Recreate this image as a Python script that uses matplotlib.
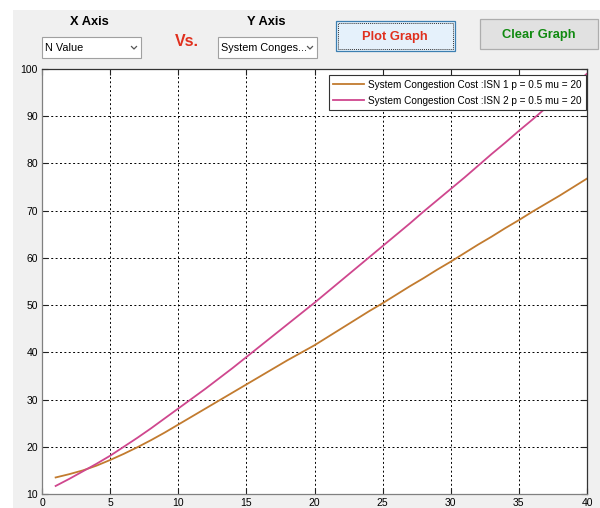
import matplotlib
matplotlib.use("Agg")
import matplotlib.pyplot as plt
from matplotlib.patches import Rectangle
from matplotlib.lines import Line2D

# ---------------- data ----------------
n_values = list(range(1, 41))
isn1_cost = [13.5, 14.2, 15.0, 16.0, 17.2, 18.5, 19.9, 21.4, 23.0, 24.7,
             26.4, 28.1, 29.8, 31.5, 33.2, 34.9, 36.6, 38.3, 39.9, 41.5,
             43.3, 45.1, 46.9, 48.7, 50.4, 52.2, 54.0, 55.7, 57.5, 59.2,
             61.0, 62.8, 64.5, 66.3, 68.0, 69.8, 71.5, 73.2, 75.0, 76.8]
isn2_cost = [11.7, 13.2, 14.8, 16.4, 18.1, 20.0, 21.9, 23.9, 26.0, 28.1,
             30.2, 32.3, 34.5, 36.7, 39.0, 41.3, 43.6, 45.9, 48.2, 50.5,
             52.9, 55.3, 57.7, 60.1, 62.5, 64.9, 67.3, 69.8, 72.2, 74.6,
             77.0, 79.5, 82.0, 84.4, 86.9, 89.3, 91.8, 94.2, 96.6, 99.0]
series_labels = ["System Congestion Cost :ISN 1 p = 0.5 mu = 20",
                 "System Congestion Cost :ISN 2 p = 0.5 mu = 20"]
x_ticks = [0, 5, 10, 15, 20, 25, 30, 35, 40]
y_ticks = [10, 20, 30, 40, 50, 60, 70, 80, 90, 100]

W, H = 600, 508
plt.rcParams['font.family'] = ['Liberation Sans', 'DejaVu Sans']
fig = plt.figure(figsize=(W / 100, H / 100), dpi=100, facecolor='white')


def fx(px):
    return px / W


def fy(py):
    return 1 - py / H


def rect(x0, y0, x1, y1, **kw):
    fig.patches.append(Rectangle((fx(x0), fy(y1)), fx(x1) - fx(x0), fy(y0) - fy(y1),
                                 transform=fig.transFigure, **kw))


# gray panel
rect(13, 10, 600, 508, facecolor='#f0f0f0', edgecolor='none', zorder=-5)

# header widgets
fig.text(fx(89), fy(22), "X Axis", ha='center', va='center', fontsize=9.3, fontweight='bold')
fig.text(fx(266), fy(22), "Y Axis", ha='center', va='center', fontsize=9.3, fontweight='bold')
fig.text(fx(187), fy(41), "Vs.", ha='center', va='center', fontsize=11.5, fontweight='bold',
         color='#e0301e')

for (x0, x1, label) in [(42, 141, "N Value"), (218, 317, "System Conges...")]:
    rect(x0, 37, x1, 58, facecolor='white', edgecolor='#a0a0a0', linewidth=0.8, zorder=1)
    fig.text(fx(x0 + 3), fy(48), label, ha='left', va='center', fontsize=7.8, color='black')
    cx = x1 - 7
    fig.lines.append(Line2D([fx(cx - 2.5), fx(cx), fx(cx + 2.5)], [fy(46.5), fy(49), fy(46.5)],
                            transform=fig.transFigure, color='#555555', linewidth=0.9))

# Plot Graph button
rect(336, 21, 455, 51, facecolor='#e5f1fb', edgecolor='#3c7fb1', linewidth=0.9, zorder=1)
rect(338, 23, 453, 49, facecolor='none', edgecolor='#333333', linewidth=0.7,
     linestyle=(0, (1, 1)), zorder=2)
fig.text(fx(395), fy(37), "Plot Graph", ha='center', va='center', fontsize=9.3,
         fontweight='bold', color='#e0301e')

# Clear Graph button
rect(480, 19, 598, 49, facecolor='#e1e1e1', edgecolor='#adadad', linewidth=0.9, zorder=1)
fig.text(fx(539), fy(35), "Clear Graph", ha='center', va='center', fontsize=9.3,
         fontweight='bold', color='#108a10')

# ---------------- axes ----------------
ax = fig.add_axes([fx(42), fy(494), fx(587) - fx(42), fy(69) - fy(494)])
ax.set_zorder(3)
ax.set_facecolor('white')
ax.plot(n_values, isn1_cost, color='#c27b2f', linewidth=1.3, label=series_labels[0])
ax.plot(n_values, isn2_cost, color='#cf478e', linewidth=1.3, label=series_labels[1])
ax.set_xlim(0, 40)
ax.set_ylim(10, 100)
ax.set_xticks(x_ticks)
ax.set_yticks(y_ticks)
ax.grid(True, color='black', linestyle=(0, (2, 2.5)), linewidth=0.7)
ax.tick_params(direction='in', length=4, width=0.8, labelsize=7.5, pad=3,
               top=True, right=True, color='#222222')
for s in ax.spines.values():
    s.set_color('#333333')
    s.set_linewidth(0.9)
ax.spines['left'].set_color('#808080')
ax.spines['bottom'].set_color('#808080')

leg = ax.legend(loc='upper right', bbox_to_anchor=(fx(586), fy(75)),
                bbox_transform=fig.transFigure, borderaxespad=0,
                prop={'size': 7.2},
                handlelength=3.1, handletextpad=0.35, borderpad=0.45, labelspacing=0.6,
                fancybox=False, framealpha=1, edgecolor='#333333')
leg.get_frame().set_linewidth(0.8)

fig.savefig("out.png", dpi=100, facecolor=fig.get_facecolor())
